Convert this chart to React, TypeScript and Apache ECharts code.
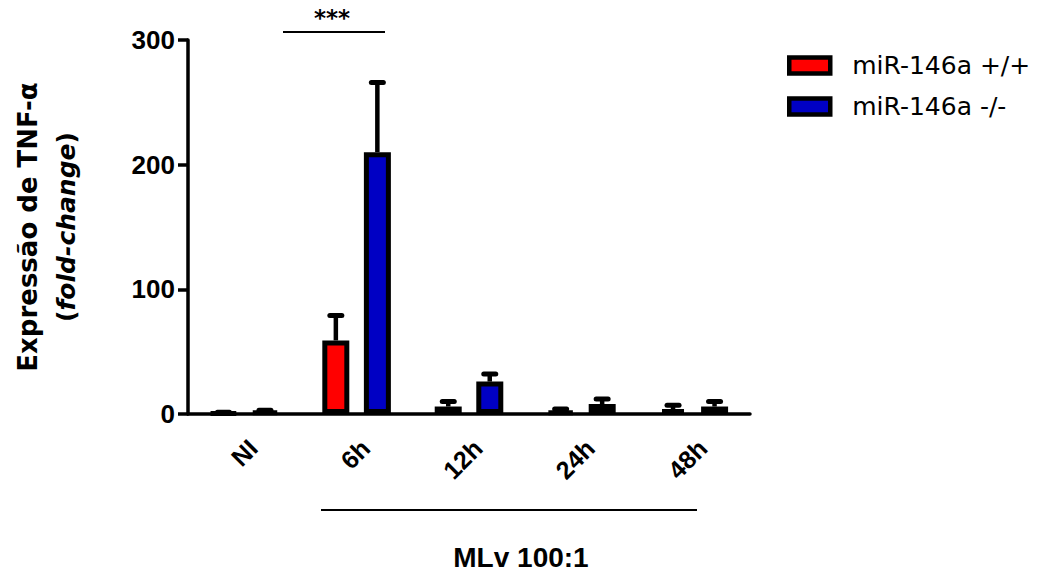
import React, { useEffect, useRef } from "react";
import * as echarts from "echarts";

const categories = ["NI", "6h", "12h", "24h", "48h"];
const seriesNames = ["miR-146a +/+", "miR-146a -/-"];
const wildMeans = [1, 59, 6, 2, 4];
const wildErrors = [0.5, 20, 4, 2, 3];
const knockMeans = [2, 210, 26, 8, 6];
const knockErrors = [1, 56, 6, 4, 4];
const yTicks = [0, 100, 200, 300];
const colors = ["#ff0000", "#0000c4"];

const FONT = "'Liberation Sans', Arial, sans-serif";
const WIDE = "'DejaVu Sans', sans-serif";
const BAR_W = 27;
const OFFSET = 20.75;

function errorSeries(means: number[], errs: number[], dir: number) {
  return {
    type: "custom",
    silent: true,
    z: 1,
    data: means.map((m, i) => [i, m, m + errs[i]]),
    renderItem: (params: any, api: any) => {
      const base = api.coord([api.value(0), api.value(1)]);
      const top = api.coord([api.value(0), api.value(2)]);
      const x = base[0] + dir * OFFSET;
      return {
        type: "group",
        children: [
          {
            type: "line",
            shape: { x1: x, y1: base[1], x2: x, y2: top[1] },
            style: { stroke: "#000", lineWidth: 4.5 },
          },
          {
            type: "line",
            shape: { x1: x - 6, y1: top[1], x2: x + 6, y2: top[1] },
            style: { stroke: "#000", lineWidth: 5, lineCap: "round" },
          },
        ],
      };
    },
  };
}

export default function App() {
  const ref = useRef<HTMLDivElement>(null);
  useEffect(() => {
    const chart = echarts.init(ref.current!, undefined, { renderer: "svg" });
    chart.setOption({
      animation: false,
      backgroundColor: "#fff",
      textStyle: { fontFamily: FONT },
      grid: { left: 188, right: 291, top: 40, bottom: 161 },
      legend: {
        left: 782,
        top: 48,
        orient: "vertical",
        itemWidth: 41,
        itemHeight: 16,
        itemGap: 16,
        icon: "rect",
        data: seriesNames,
        itemStyle: { borderColor: "#000", borderWidth: 4.5 },
        textStyle: { fontSize: 25, color: "#000", fontFamily: WIDE, padding: [0, 0, 0, 17] },
      },
      xAxis: {
        type: "category",
        data: categories,
        axisLine: { lineStyle: { color: "#000", width: 3.5 } },
        axisTick: { alignWithLabel: true, length: 10, lineStyle: { color: "#000", width: 3.5 } },
        axisLabel: {
          rotate: 45,
          fontSize: 25,
          fontWeight: "bold",
          color: "#000",
          fontFamily: FONT,
          margin: 21,
          verticalAlign: "top",
        },
      },
      yAxis: {
        type: "value",
        min: 0,
        max: 300,
        interval: 100,
        splitLine: { show: false },
        axisLine: { show: true, lineStyle: { color: "#000", width: 3.5 } },
        axisTick: { show: true, length: 10, lineStyle: { color: "#000", width: 3.5 } },
        axisLabel: {
          fontSize: 26,
          fontWeight: "bold",
          color: "#000",
          fontFamily: FONT,
          margin: 13,
          formatter: (v: number) => (yTicks.includes(v) ? String(v) : ""),
        },
      },
      series: [
        {
          name: seriesNames[0],
          type: "bar",
          data: wildMeans,
          barWidth: BAR_W,
          barGap: "54%",
          z: 2,
          itemStyle: { color: colors[0], borderColor: "#000", borderWidth: 5 },
        },
        {
          name: seriesNames[1],
          type: "bar",
          data: knockMeans,
          barWidth: BAR_W,
          z: 2,
          itemStyle: { color: colors[1], borderColor: "#000", borderWidth: 5 },
        },
        errorSeries(wildMeans, wildErrors, -1),
        errorSeries(knockMeans, knockErrors, 1),
      ],
      graphic: [
        {
          type: "text",
          x: 28,
          y: 227,
          rotation: Math.PI / 2,
          style: {
            text: "Expressão de TNF-α",
            fontSize: 26,
            fontWeight: "bold",
            fontFamily: WIDE,
            fill: "#000",
            align: "center",
            verticalAlign: "middle",
          },
        },
        {
          type: "text",
          x: 66,
          y: 227,
          rotation: Math.PI / 2,
          style: {
            text: "{n|(}{i|fold-change}{n|)}",
            rich: {
              n: { fontSize: 25, fontWeight: "bold", fontFamily: WIDE, fill: "#000" },
              i: { fontSize: 25, fontWeight: "bold", fontStyle: "italic", fontFamily: WIDE, fill: "#000" },
            },
            align: "center",
            verticalAlign: "middle",
          },
        },
        {
          type: "line",
          shape: { x1: 283, y1: 32, x2: 385, y2: 32 },
          style: { stroke: "#000", lineWidth: 2 },
        },
        {
          type: "text",
          x: 332,
          y: 18,
          style: {
            text: "***",
            fontSize: 23,
            fontWeight: "bold",
            fontFamily: WIDE,
            fill: "#000",
            align: "center",
            verticalAlign: "middle",
          },
        },
        {
          type: "line",
          shape: { x1: 321, y1: 510, x2: 697, y2: 510 },
          style: { stroke: "#000", lineWidth: 2 },
        },
        {
          type: "text",
          x: 521,
          y: 557,
          style: {
            text: "MLv 100:1",
            fontSize: 28,
            fontWeight: "bold",
            fontFamily: FONT,
            fill: "#000",
            align: "center",
            verticalAlign: "middle",
          },
        },
      ],
    });
    return () => chart.dispose();
  }, []);
  return <div ref={ref} style={{ width: 1041, height: 575, margin: -8 }} />;
}
